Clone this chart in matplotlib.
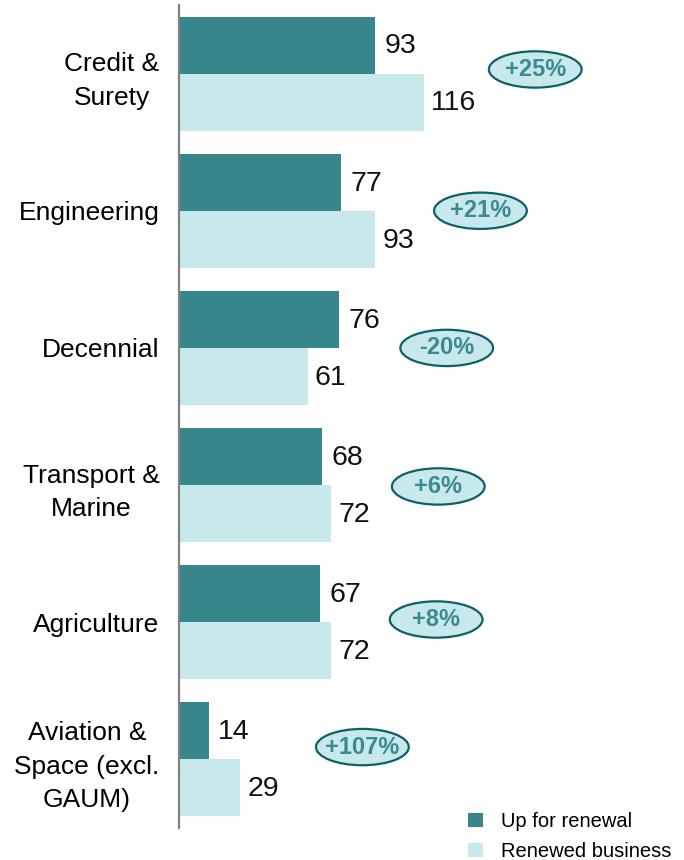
import matplotlib
matplotlib.use("Agg")
import matplotlib.pyplot as plt
from matplotlib.patches import Ellipse, Patch

plt.rcParams['font.family'] = ['Liberation Sans', 'DejaVu Sans']

categories = ["Credit &\nSurety", "Engineering", "Decennial", "Transport &\nMarine",
              "Agriculture", "Aviation &\nSpace (excl.\nGAUM)"]
up_for_renewal = [93, 77, 76, 68, 67, 14]
renewed_business = [116, 93, 61, 72, 72, 29]
change_labels = ["+25%", "+21%", "-20%", "+6%", "+8%", "+107%"]
series_names = ["Up for renewal", "Renewed business"]

DARK = "#37868B"
LIGHT = "#C8E9EC"
EDGE = "#0F5F6B"
TXT = "#3B8A8F"

fig = plt.figure(figsize=(6.84, 8.6), dpi=100)
ax = fig.add_axes([179/684, 1 - 828/860, 1 - 179/684, 823/860])

n = len(categories)
h = 0.416
ys = list(range(n))
ax.barh([y - h/2 for y in ys], up_for_renewal, height=h, color=DARK, zorder=2)
ax.barh([y + h/2 for y in ys], renewed_business, height=h, color=LIGHT, zorder=2)

for y, a, b in zip(ys, up_for_renewal, renewed_business):
    ax.text(a + 4.5, y - h/2 + 0.01, str(a), va='center', ha='left', fontsize=20.5, color='#111111')
    ax.text(b + 3.5, y + h/2 + 0.01, str(b), va='center', ha='left', fontsize=20.5, color='#111111')

# ellipse layout (style)
ell_dx = [53, 50, 51, 51, 50, 58]
ell_dy = [-0.03, 0.0, 0.0, 0.01, -0.02, -0.09]
for y, a, b, lab, dx, dy in zip(ys, up_for_renewal, renewed_business, change_labels, ell_dx, ell_dy):
    cx = max(a, b) + dx
    cy = y + dy
    e = Ellipse((cx, cy), width=44, height=0.265, facecolor=LIGHT, edgecolor=EDGE,
                linewidth=1.6, zorder=3, clip_on=False)
    ax.add_patch(e)
    ax.text(cx, cy, lab, ha='center', va='center', fontsize=17, fontweight='bold',
            color=TXT, zorder=4)

ax.set_xlim(0, 505/2.108)
ax.set_ylim(n - 0.5, -0.5)
ax.set_yticks(ys)
ax.set_yticklabels(categories, fontsize=19, linespacing=1.5, ha='right', multialignment='center')
ax.tick_params(axis='y', length=0, pad=14)
ax.set_xticks([])
for s in ['top', 'right', 'bottom']:
    ax.spines[s].set_visible(False)
ax.spines['left'].set_color('#808080')
ax.spines['left'].set_linewidth(1.6)
ax.patch.set_alpha(0)

handles = [Patch(facecolor=DARK, edgecolor='none'), Patch(facecolor=LIGHT, edgecolor='none')]
fig.legend(handles, series_names, loc='upper left', bbox_to_anchor=(468/684, 1 - 812/860),
           frameon=False, fontsize=14.5, handlelength=0.75, handleheight=0.75,
           handletextpad=0.9, labelspacing=0.55, borderpad=0, borderaxespad=0)

fig.savefig("out.png", dpi=100)
